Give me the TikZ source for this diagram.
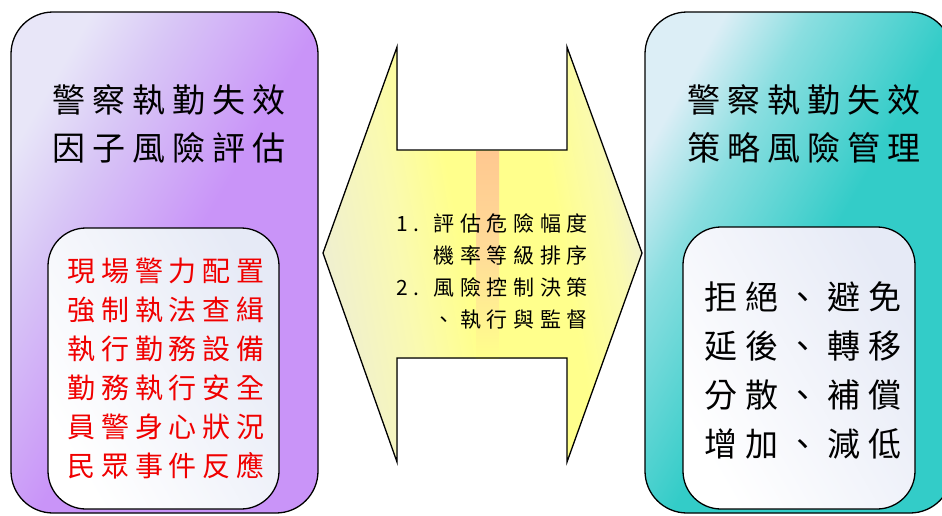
\documentclass[tikz,border=0pt]{standalone}
\usepackage{fontspec}
\newfontfamily\cjk{Noto Sans CJK TC}
\definecolor{purpleL}{HTML}{E8E6F8}
\definecolor{purpleM}{HTML}{D8C6F6}
\definecolor{purpleD}{HTML}{C994F8}
\definecolor{tealL}{HTML}{DCEEF6}
\definecolor{tealM}{HTML}{8ADEE0}
\definecolor{tealD}{HTML}{33CCC8}
\definecolor{innerL}{HTML}{E6EAF6}
\definecolor{creamY}{HTML}{EEEED4}
\definecolor{midY}{HTML}{FAFAB0}
\definecolor{brightY}{HTML}{FFFF8C}
\definecolor{stripeT}{HTML}{FFC890}
\definecolor{stripeM}{HTML}{FFDC98}
\definecolor{redtxt}{HTML}{F00000}
\pgfdeclarehorizontalshading{purpsh}{100bp}{color(0bp)=(purpleL); color(25bp)=(purpleL); color(35bp)=(purpleM); color(52bp)=(purpleD); color(100bp)=(purpleD)}
\pgfdeclarehorizontalshading{tealsh}{100bp}{color(0bp)=(tealL); color(25bp)=(tealL); color(35bp)=(tealM); color(52bp)=(tealD); color(100bp)=(tealD)}
\pgfdeclarehorizontalshading{yelsh}{100bp}{color(0bp)=(creamY); color(25bp)=(creamY); color(38bp)=(midY); color(47bp)=(brightY); color(62bp)=(brightY); color(70bp)=(midY); color(75bp)=(creamY); color(100bp)=(creamY)}
\pgfdeclareverticalshading{stripesh}{100bp}{color(0bp)=(brightY); color(25bp)=(brightY); color(50bp)=(stripeM); color(75bp)=(stripeT); color(100bp)=(stripeT)}
\tikzset{
  bigbox/.style={draw=black, line width=1.3pt, rounded corners=42pt, inner sep=0pt, outer sep=0pt,
    minimum width=307pt, minimum height=501pt},
  innerbox/.style={draw=black, line width=1.3pt, rounded corners=38pt, inner sep=0pt, outer sep=0pt,
    left color=innerL, right color=white, shading angle=-60},
  titletext/.style={font=\cjk\addfontfeature{LetterSpace=21}\fontsize{33}{48}\selectfont, align=center, inner sep=0pt},
  redlist/.style={font=\cjk\addfontfeature{LetterSpace=21}\fontsize{28}{39}\selectfont, text=redtxt, align=center, inner sep=0pt},
  bluelist/.style={font=\cjk\addfontfeature{LetterSpace=24}\fontsize{33}{49}\selectfont, align=center, inner sep=0pt},
  arrowtext/.style={font=\cjk\addfontfeature{LetterSpace=27}\fontsize{21}{32}\selectfont, align=right, inner sep=0pt},
}
\begin{document}
\begin{tikzpicture}[x=1pt,y=-1pt]
\useasboundingbox (0,0) rectangle (942,515);
\clip (0,0) rectangle (942,515);
% left outer box
\node[bigbox, shading=purpsh, shading angle=-30] (lbox) at (164.5,262.5) {};
\node[innerbox, minimum width=231pt, minimum height=281pt] (linner) at (163.5,368.5) {};
% right outer box
\node[bigbox, shading=tealsh, shading angle=-30] (rbox) at (798.5,262.5) {};
\node[innerbox, minimum width=232pt, minimum height=282pt] (rinner) at (799,368) {};
% double arrow
\coordinate (tipL) at (323,253);
\coordinate (tipR) at (642,253);
\fill[shading=yelsh, shading angle=10]
  (tipL) -- (397,47) -- (397,150) -- (567,150) -- (567,47) -- (tipR) -- (567,462) -- (567,358) -- (397,358) -- (397,462) -- cycle;
\fill[shading=stripesh] (476,151) rectangle (499,358);
\draw[line width=1.3pt, line join=miter]
  (tipL) -- (397,47) -- (397,150) -- (567,150) -- (567,47) -- (tipR) -- (567,462) -- (567,358) -- (397,358) -- (397,462) -- cycle;
% texts
\node[titletext] (ltitle) at (169,124) {警察執勤失效\\因子風險評估};
\node[titletext] (rtitle) at (804,124) {警察執勤失效\\策略風險管理};
\node[redlist] (llist) at (166,369) {現場警力配置\\強制執法查緝\\執行勤務設備\\勤務執行安全\\員警身心狀況\\民眾事件反應};
\node[bluelist] (rlist) at (803,370) {拒絕、避免\\延後、轉移\\分散、補償\\增加、減低};
\node[arrowtext, anchor=east] (mtext) at (588,271) {1. 評估危險幅度\\機率等級排序\\2. 風險控制決策\\、執行與監督};
\end{tikzpicture}
\end{document}
